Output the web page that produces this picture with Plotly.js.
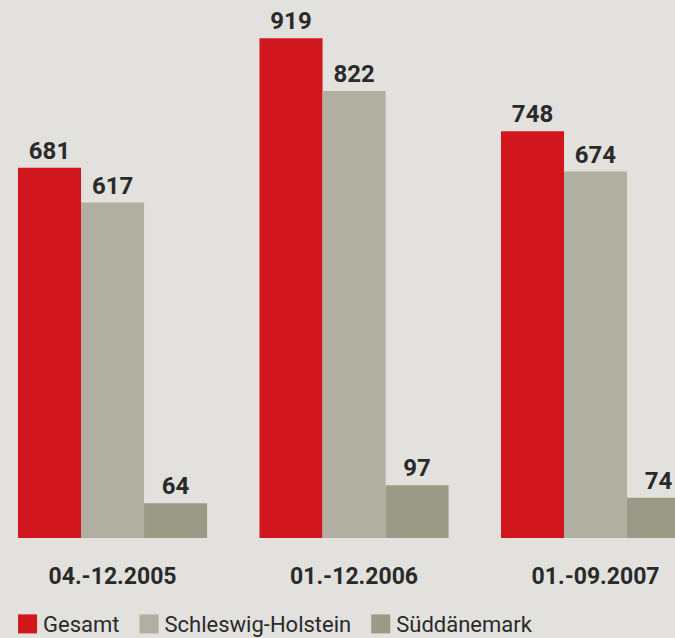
<!DOCTYPE html>
<html>
<head>
<meta charset="utf-8">
<script src="https://cdn.plot.ly/plotly-3.0.1.min.js"></script>
<style>
html,body{margin:0;padding:0;background:#e2e1dd;}
#chart{width:675px;height:638px;}
</style>
</head>
<body>
<div id="chart"></div>
<script>
const categories = ["04.-12.2005", "01.-12.2006", "01.-09.2007"];
const seriesNames = ["Gesamt", "Schleswig-Holstein", "Süddänemark"];
const gesamt = [681, 919, 748];
const schleswigHolstein = [617, 822, 674];
const sueddaenemark = [64, 97, 74];
const seriesColors = ["#d2161e", "#b0afa2", "#9b9a87"];

const FONT = "Roboto, Lato, sans-serif";
const values = [gesamt, schleswigHolstein, sueddaenemark];

const traces = values.map((v, i) => ({
  type: "bar",
  name: seriesNames[i],
  x: categories,
  y: v,
  marker: {color: seriesColors[i], line: {width: 0}},
  text: v.map(String),
  textposition: "outside",
  textfont: {family: FONT, size: 24, color: "#2a2a2a", weight: "bold"},
  cliponaxis: false,
  hoverinfo: "none"
}));

const layout = {
  width: 675, height: 638,
  paper_bgcolor: "#e2e1dd",
  plot_bgcolor: "#e2e1dd",
  margin: {l: 0, r: 0, t: 0, b: 100, autoexpand: false},
  barmode: "group",
  bargap: 0.217,
  bargroupgap: 0,
  showlegend: true,
  legend: {
    orientation: "h",
    x: 0.0045, xanchor: "left",
    y: -0.121, yanchor: "top",
    font: {family: FONT, size: 22, color: "#2a2a2a"},
    bgcolor: "rgba(0,0,0,0)",
    traceorder: "normal"
  },
  xaxis: {
    type: "category",
    range: [-0.466, 2.329],
    showgrid: false, zeroline: false, showline: false,
    ticks: "",
    ticklabelstandoff: 22,
    tickfont: {family: FONT, size: 23, color: "#2a2a2a", weight: "bold"},
    fixedrange: true
  },
  yaxis: {
    range: [0, 989.5],
    visible: false,
    showgrid: false, zeroline: false,
    fixedrange: true
  },
  font: {family: FONT}
};

Plotly.newPlot("chart", traces, layout, {displayModeBar: false, staticPlot: true}).then(gd => {
  gd.querySelectorAll(".legend .legendpoints path").forEach(p => {
    const orig = p.getAttribute("transform") || "";
    p.setAttribute("d", "M9.5,9.5H-9.5V-9.5H9.5Z");
    p.setAttribute("transform", orig + " translate(4.5,0)");
  });
});
</script>
</body>
</html>
